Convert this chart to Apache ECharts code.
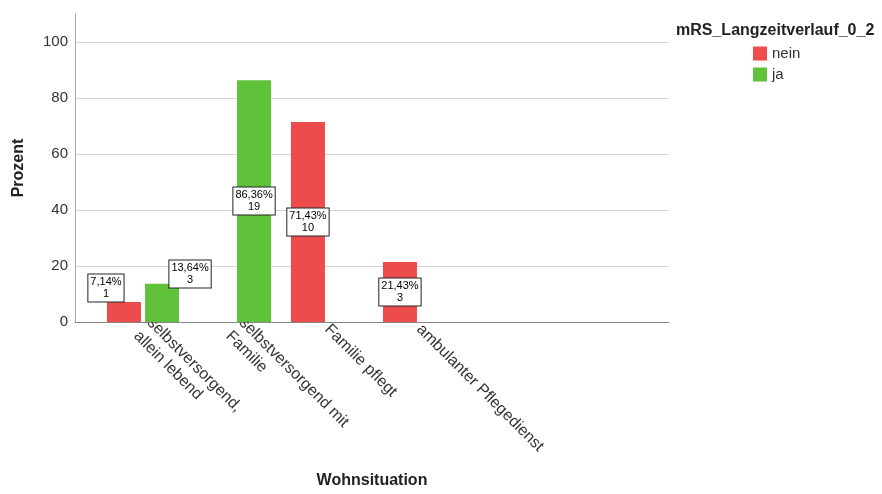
<!DOCTYPE html>
<html>
<head>
<meta charset="utf-8">
<script src="https://cdn.jsdelivr.net/npm/echarts@6/dist/echarts.min.js"></script>
<style>html,body{margin:0;padding:0;background:#fff}#c{width:882px;height:494px}</style>
</head>
<body>
<div id="c"></div>
<script>
const categories = ['selbstversorgend,\nallein lebend', 'selbstversorgend mit\nFamilie', 'Familie pflegt', 'ambulanter Pflegedienst'];
const seriesNames = ['nein', 'ja'];
const neinPercent = [7.14, null, 71.43, 21.43];
const jaPercent = [13.64, 86.36, null, null];
const neinCount = [1, null, 10, 3];
const jaCount = [3, 19, null, null];
const yMin = 0, yMax = 110, yInterval = 20;

const FONT = '"Liberation Sans", Arial, sans-serif';
const RED = '#ee4c4c', GREEN = '#60c13a';
// label offsets (styling) to mimic SPSS collision avoidance
const neinOffsets = [[-18, -24], null, null, null];
const jaOffsets = [[28, -29], null, null, null];

function fmt(p, c) { return p.toFixed(2).replace('.', ',') + '%\n' + c; }
function buildData(perc, counts, offsets) {
  return perc.map((v, i) => {
    if (v == null) return null;
    const item = { value: v, count: counts[i] };
    if (offsets[i]) item.label = { offset: offsets[i] };
    return item;
  });
}
const labelStyle = {
  show: true, position: 'inside', fontFamily: FONT, fontSize: 11, lineHeight: 12,
  color: '#000', backgroundColor: '#fff', borderColor: '#222', borderWidth: 1,
  padding: [2, 2, 1, 2], align: 'center',
  formatter: p => fmt(p.value, p.data.count)
};

const chart = echarts.init(document.getElementById('c'));
chart.setOption({
  animation: false,
  textStyle: { fontFamily: FONT },
  title: {
    text: 'mRS_Langzeitverlauf_0_2', left: 676, top: 23, padding: 0,
    textStyle: { fontFamily: FONT, fontSize: 16, fontWeight: 'bold', color: '#222' }
  },
  legend: {
    data: seriesNames, orient: 'vertical', left: 753, top: 46, padding: 0,
    itemWidth: 14, itemHeight: 14, itemGap: 6, icon: 'rect',
    textStyle: { fontFamily: FONT, fontSize: 15, color: '#333' }
  },
  grid: [
    { left: 75, right: 213, top: 14, bottom: 172, containLabel: false },
    { left: 97, width: 368, top: 14, bottom: 172, containLabel: false }
  ],
  xAxis: [
    { gridIndex: 0, type: 'value', min: 0, max: 1,
      axisLine: { show: true, lineStyle: { color: '#888', width: 1 } },
      axisTick: { show: false }, axisLabel: { show: false }, splitLine: { show: false },
      name: 'Wohnsituation', nameLocation: 'middle', nameGap: 151,
      nameTextStyle: { fontFamily: FONT, fontSize: 16, fontWeight: 'bold', color: '#222' } },
    { gridIndex: 1, type: 'category', data: categories,
      axisLine: { show: false }, axisTick: { show: false },
      axisLabel: { interval: 0, rotate: -45, margin: 5, fontFamily: FONT, fontSize: 16,
        lineHeight: 19, color: '#333' } }
  ],
  yAxis: [
    { gridIndex: 0, type: 'value', min: yMin, max: yMax, interval: yInterval,
      axisLine: { show: true, lineStyle: { color: '#aaa' } },
      axisTick: { show: false },
      axisLabel: { fontFamily: FONT, fontSize: 15, color: '#333', margin: 7, showMaxLabel: false },
      splitLine: { show: true, showMinLine: false, showMaxLine: false, lineStyle: { color: '#d4d4d4', width: 1 } },
      name: 'Prozent', nameLocation: 'middle', nameGap: 48, nameRotate: 90,
      nameTextStyle: { fontFamily: FONT, fontSize: 16, fontWeight: 'bold', color: '#222' } },
    { gridIndex: 1, type: 'value', min: yMin, max: yMax, interval: yInterval, show: false }
  ],
  series: [
    { name: seriesNames[0], type: 'bar', xAxisIndex: 1, yAxisIndex: 1,
      data: buildData(neinPercent, neinCount, neinOffsets), barWidth: 34, barGap: '12%',
      itemStyle: { color: RED }, label: labelStyle },
    { name: seriesNames[1], type: 'bar', xAxisIndex: 1, yAxisIndex: 1,
      data: buildData(jaPercent, jaCount, jaOffsets), barWidth: 34, barGap: '12%',
      itemStyle: { color: GREEN }, label: labelStyle }
  ]
});
</script>
</body>
</html>
